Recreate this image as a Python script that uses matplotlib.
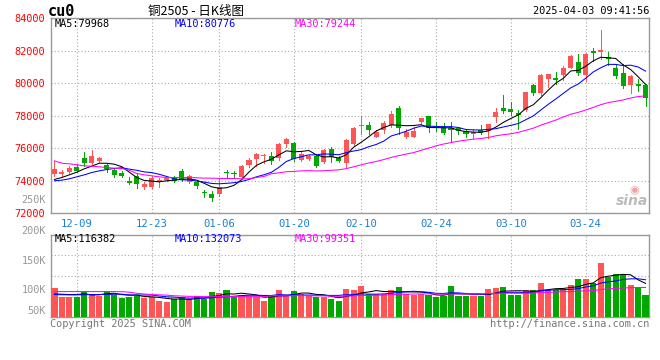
import numpy as np
import pandas as pd
import matplotlib
matplotlib.use('Agg')
import matplotlib.pyplot as plt

# ---------------- data ----------------
holidays = ['2025-01-01', '2025-01-28', '2025-01-29', '2025-01-30',
            '2025-01-31', '2025-02-03', '2025-02-04']
trade_days = [d for d in pd.bdate_range('2024-12-04', '2025-04-03')
              if d.strftime('%Y-%m-%d') not in holidays]
date_labels = [d.strftime('%m-%d') for d in trade_days]

tick_labels = ['12-09', '12-23', '01-06', '01-20', '02-10', '02-24', '03-10', '03-24']

opens = [74409, 74409, 74552, 74859, 75432, 75084, 75207, 74961, 74675, 74450,
         73959, 74307, 73591, 73591, 73939, 74041, 74205, 74614, 73898, 73939,
         73325, 73182, 73182, 74552, 74491, 74245, 74950, 75342, 75506, 75527,
         75383, 76286, 76347, 75281, 75342, 75547, 75178, 75957, 75383, 75076,
         76245, 77352, 77434, 76716, 77126, 77434, 78460, 76716, 76716, 77639,
         77988, 77373, 77373, 77250, 77270, 77068, 76863, 77129, 77068, 77926,
         78499, 78438, 78151, 78335, 79869, 79419, 80237, 80299, 80503, 80953,
         81321, 80503, 82016, 81935, 81628, 80912, 80646, 79890, 79951, 79890]
highs = [75227, 74654, 74920, 75023, 75779, 75881, 75472, 75063, 74777, 74614,
         74205, 74450, 73898, 74307, 74164, 74205, 74307, 74716, 74348, 74041,
         73427, 73346, 74143, 74654, 74614, 74982, 75400, 75691, 75650, 75793,
         76306, 76614, 76409, 75855, 75588, 75629, 75937, 76101, 75527, 76573,
         77332, 77988, 77639, 77126, 77701, 78296, 78603, 77188, 77332, 77885,
         77988, 77639, 77578, 77620, 77332, 77170, 77170, 77415, 77517, 78499,
         79256, 78867, 78335, 79481, 79971, 80544, 80544, 80708, 81055, 81730,
         81832, 81873, 82180, 83305, 81935, 81158, 81198, 80483, 80237, 79931]
lows = [74266, 74266, 74450, 74511, 74920, 75023, 75166, 74511, 74205, 74205,
        73796, 73550, 73489, 73550, 73632, 74000, 73939, 74000, 73836, 73550,
        72978, 72732, 73080, 74205, 74205, 74164, 74870, 74911, 75076, 75014,
        75281, 76101, 75240, 75219, 75281, 74870, 75076, 75178, 75178, 74768,
        76204, 76880, 76880, 76675, 76921, 77332, 76880, 76614, 76675, 77537,
        77024, 77085, 76880, 76480, 76860, 76699, 76618, 76863, 76618, 77640,
        78192, 78049, 77211, 78295, 79276, 79276, 79767, 79931, 80196, 80912,
        80483, 80135, 81362, 81505, 81096, 80340, 79685, 79378, 79522, 78601]
closes = [74716, 74532, 74757, 74614, 75084, 75534, 75432, 74716, 74348, 74307,
          73857, 73796, 73796, 74164, 74061, 74184, 74000, 74061, 74266, 73693,
          73223, 72916, 73591, 74450, 74429, 74920, 75300, 75650, 75547, 75219,
          76265, 76552, 75342, 75650, 75527, 74911, 75896, 75445, 75240, 76511,
          77270, 77393, 77126, 77024, 77578, 78091, 77270, 76983, 77085, 77844,
          77229, 77229, 76921, 77100, 77045, 76863, 77027, 76925, 77477, 78254,
          78295, 78233, 78029, 79460, 79378, 80483, 80544, 80196, 80912, 81669,
          80646, 81812, 81853, 82037, 81505, 80442, 79828, 80442, 79828, 79113]
volumes = [98100, 69100, 69100, 69100, 88100, 78000, 72500, 88100, 74700, 65800,
           69100, 72500, 65800, 69100, 55800, 52400, 61300, 66900, 61300, 72500,
           61300, 85900, 81400, 91400, 69100, 74700, 72500, 66900, 53500, 72500,
           91400, 74700, 88100, 78000, 72500, 69100, 69100, 61300, 55800, 94800,
           90300, 104800, 78000, 78000, 79200, 90300, 101500, 78000, 74700, 78000,
           74700, 69100, 72500, 104800, 71400, 71400, 71400, 71400, 94800, 98100,
           101500, 74700, 74700, 91400, 91400, 114800, 90300, 90300, 94800, 108200,
           128200, 128200, 114800, 181700, 133800, 144900, 141600, 108200, 98100, 74700]

# moving-average values at the left edge (window reaches before the chart)
ma5_head = [74082, 74205, 74368, 74532]
ma10_head = [74000, 74041, 74123, 74245, 74368, 74511, 74614, 74695, 74757]
ma30_head = [75227, 75084, 75043, 74982, 74920, 74900, 74859, 74818, 74777, 74757,
             74654, 74450, 74368, 74307, 74245, 74205, 74205, 74205, 74205, 74184,
             74164, 74164, 74143, 74143, 74143, 74123, 74123, 74205, 74266]
vma5_head = [78000, 77000, 76000, 76000]
vma10_head = [76000, 75500, 75000, 75000, 75500, 76000, 76000, 76500, 77000]
vma30_head = [86000, 86000, 86000, 86000, 86000, 86000, 86000, 86000, 86000, 85500,
              84000, 80000, 78000, 76000, 75000, 74000, 72000, 71000, 70000, 70000,
              69000, 69000, 69000, 69000, 69000, 69000, 69000, 69000, 69000]

price_ticks = [84000, 82000, 80000, 78000, 76000, 74000, 72000]
vol_labels = ['250K', '200K', '150K', '100K', '50K']
legend_price = ['MA5:79968', 'MA10:80776', 'MA30:79244']
legend_vol = ['MA5:116382', 'MA10:132073', 'MA30:99351']

# ---------------- helpers ----------------
def moving(values, window, head):
    s = pd.Series(values, dtype=float).rolling(window).mean().to_numpy()
    s[:len(head)] = head
    return s

RED = '#ff5555'
GREEN = '#00a800'
GRID = '#aaaaaa'
SPINE = '#999999'
MONO = 'DejaVu Sans Mono'

W, H = 660, 360
fig = plt.figure(figsize=(W / 100, H / 100), dpi=100)
fig.patch.set_facecolor('white')

def fr(x0, y0, x1, y1):
    return [x0 / W, 1 - y1 / H, (x1 - x0) / W, (y1 - y0) / H]

ax = fig.add_axes(fr(50.7, 18.3, 649.3, 213.3))
axv = fig.add_axes(fr(50.7, 234.7, 649.3, 317.3))

o = np.array(opens, float)
h = np.array(highs, float)
l = np.array(lows, float)
c = np.array(closes, float)
v = np.array(volumes, float)
n = len(c)
x = np.arange(n)
up = c >= o
cols = np.where(up, RED, GREEN)

# candles
ax.vlines(x, l, h, colors=cols, linewidth=0.72, antialiased=False, zorder=3)
ax.bar(x, np.maximum(np.abs(c - o), 70), bottom=np.minimum(o, c), width=0.68,
       color=cols, linewidth=0, antialiased=False, zorder=3)
ax.plot(x, moving(c, 5, ma5_head), color='black', lw=0.75, zorder=4)
ax.plot(x, moving(c, 10, ma10_head), color='#0000ff', lw=0.75, zorder=4)
ax.plot(x, moving(c, 30, ma30_head), color='#ff00ff', lw=0.75, zorder=4)

# volume
axv.bar(x, v, width=0.82, color=cols, linewidth=0, antialiased=False, zorder=3)
axv.plot(x, moving(v, 5, vma5_head), color='black', lw=0.75, zorder=4)
axv.plot(x, moving(v, 10, vma10_head), color='#0000ff', lw=0.75, zorder=4)
axv.plot(x, moving(v, 30, vma30_head), color='#ff00ff', lw=0.75, zorder=4)

tick_pos = [date_labels.index(t) for t in tick_labels]

for a in (ax, axv):
    a.set_xlim(-0.5, n - 0.5)
    a.set_xticks(tick_pos)
    a.grid(True, linestyle=(0, (1, 2)), color=GRID, linewidth=0.8, zorder=0)
    for s in a.spines.values():
        s.set_color(SPINE)
        s.set_linewidth(1.0)
    a.tick_params(length=0)

ax.set_ylim(72000, 84000)
ax.set_yticks(price_ticks)
ax.set_yticklabels([str(t) for t in price_ticks], color='#ff0000',
                   family=MONO, fontsize=7.4)
ax.tick_params(axis='y', pad=4)
ax.set_xticklabels(tick_labels, color='#1a80d0', family=MONO, fontsize=7.6)
ax.tick_params(axis='x', pad=4)

axv.set_ylim(0, 276000)
axv.set_yticks([69000, 138000, 207000])
axv.set_yticklabels([])
axv.set_xticklabels([])

# volume axis labels (as drawn by the source, to the left of the panels)
vol_label_y = [200, 231, 261, 290, 311]
for lab, yy in zip(vol_labels, vol_label_y):
    fig.text(46 / W, 1 - yy / H, lab, ha='right', va='center', color='#999999',
             family=MONO, fontsize=7.4)

# legends
leg_x = [55, 175, 295]
leg_c = ['black', '#0000ff', '#ff00ff']
for t, xx, cc in zip(legend_price, leg_x, leg_c):
    fig.text(xx / W, 1 - 24 / H, t, ha='left', va='center', color=cc,
             family=MONO, fontsize=7.4)
for t, xx, cc in zip(legend_vol, leg_x, leg_c):
    fig.text(xx / W, 1 - 238.5 / H, t, ha='left', va='center', color=cc,
             family=MONO, fontsize=7.4)

# titles
fig.text(48 / W, 1 - 11 / H, 'cu0', ha='left', va='center', color='black',
         family=MONO, fontsize=11, fontweight='bold')
fig.text(196 / W, 1 - 11 / H, '铜2505 - 日K线图', ha='center', va='center',
         color='black', family=['Noto Sans CJK SC', 'DejaVu Sans'], fontsize=9)
fig.text(649 / W, 1 - 11.5 / H, '2025-04-03 09:41:56', ha='right', va='center',
         color='black', family=MONO, fontsize=7.4)

fig.text(50 / W, 1 - 324 / H, 'Copyright 2025 SINA.COM', ha='left', va='center',
         color='#777777', family=MONO, fontsize=7.4)
fig.text(649 / W, 1 - 324 / H, 'http://finance.sina.com.cn', ha='right', va='center',
         color='#777777', family=MONO, fontsize=7.4)

# sina watermark
fig.text(632 / W, 1 - 201 / H, 'sina', ha='center', va='center', color='#bbbbbb',
         fontsize=10, fontweight='bold', style='italic', family='DejaVu Sans')
fig.text(634 / W, 1 - 190 / H, '◉', ha='center', va='center', color='#f4a0a0',
         fontsize=8, family='DejaVu Sans')

fig.savefig('out.png', dpi=100)
